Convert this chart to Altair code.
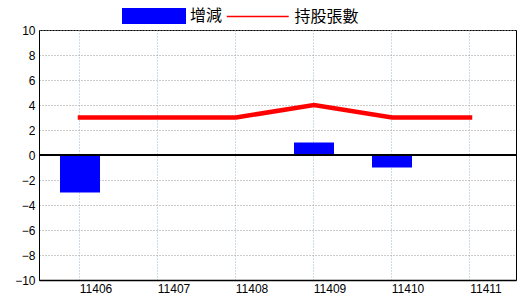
import altair as alt
import pandas as pd

months = ["11406", "11407", "11408", "11409", "11410", "11411"]
change = [-3, 0, 0, 1, -1, 0]
holdings = [3, 3, 3, 4, 3, 3]
bar_name = "增減"
line_name = "持股張數"
y_ticks = [-10, -8, -6, -4, -2, 0, 2, 4, 6, 8, 10]

df = pd.DataFrame({
    "month": months,
    "change": change,
    "holdings": holdings,
    "bar_series": [bar_name] * len(months),
    "line_series": [line_name] * len(months),
})

LABEL_FONT = "Liberation Sans"
CJK_FONT = "Noto Sans CJK TC"

x_axis = alt.Axis(
    labelAngle=0, ticks=False, grid=True, gridColor="#9ab8cc",
    gridDash=[1, 2], gridWidth=1, bandPosition=0.5, labelOffset=16,
    labelPadding=3, labelFont=LABEL_FONT, labelFontSize=12,
    labelColor="black", domainColor="black", domainWidth=1.5,
    labelOverlap=False,
)
x_scale = alt.Scale(paddingInner=0.48718, paddingOuter=0.30128, align=0.4468)

y_scale = alt.Scale(domain=[-10, 10], nice=False)
y_axis = alt.Axis(
    values=y_ticks, ticks=False, grid=True, gridColor="#999999",
    gridDash=[1, 2], gridWidth=1, labelPadding=4, labelFont=LABEL_FONT,
    labelFontSize=12, labelColor="black", domainColor="black", domainWidth=1,
    labelOverlap=False, labelFlush=False, labelSeparation=0,
)

base = alt.Chart(df)

bars = base.mark_bar().encode(
    x=alt.X("month:N", sort=months, title=None, scale=x_scale, axis=x_axis),
    y=alt.Y("change:Q", scale=y_scale, axis=y_axis, title=None),
    fill=alt.Fill(
        "bar_series:N",
        scale=alt.Scale(domain=[bar_name], range=["#0000ff"]),
        legend=alt.Legend(
            title=None, orient="none", legendX=107, legendY=-22,
            direction="horizontal", padding=0,
            symbolType="M-4,-1H4V1H-4Z", symbolSize=256,
            symbolStrokeWidth=0, labelOffset=28,
            labelFont=CJK_FONT, labelFontSize=16, labelColor="black",
        ),
    ),
)

zero = base.mark_rule(color="black", strokeWidth=1.5).encode(
    y=alt.Y(datum=0, scale=y_scale, axis=y_axis, title=None)
)

line = base.mark_line(strokeWidth=4.5, strokeCap="square").encode(
    x=alt.X("month:N", sort=months, title=None, scale=x_scale, axis=x_axis),
    y=alt.Y("holdings:Q", scale=y_scale, axis=y_axis, title=None),
    stroke=alt.Stroke(
        "line_series:N",
        scale=alt.Scale(domain=[line_name], range=["#ff0000"]),
        legend=alt.Legend(
            title=None, orient="none", legendX=210.25, legendY=-22,
            direction="horizontal", padding=0,
            symbolType="M-4,0H4", symbolSize=240, symbolStrokeWidth=1.5,
            labelOffset=28.25,
            labelFont=CJK_FONT, labelFontSize=16, labelColor="black",
        ),
    ),
)

chart = (
    alt.layer(bars, zero, line)
    .resolve_legend(fill="independent", stroke="independent")
    .properties(
        width=477, height=250,
        autosize=alt.AutoSizeParams(type="none"),
        padding={"left": 39, "top": 30, "right": 4, "bottom": 20},
        background="white",
    )
    .configure_view(stroke="black", strokeWidth=1)
    .configure_axis(labelOverlap=False)
)

chart.save("out.html", embed_options={"renderer": "svg", "actions": False})
